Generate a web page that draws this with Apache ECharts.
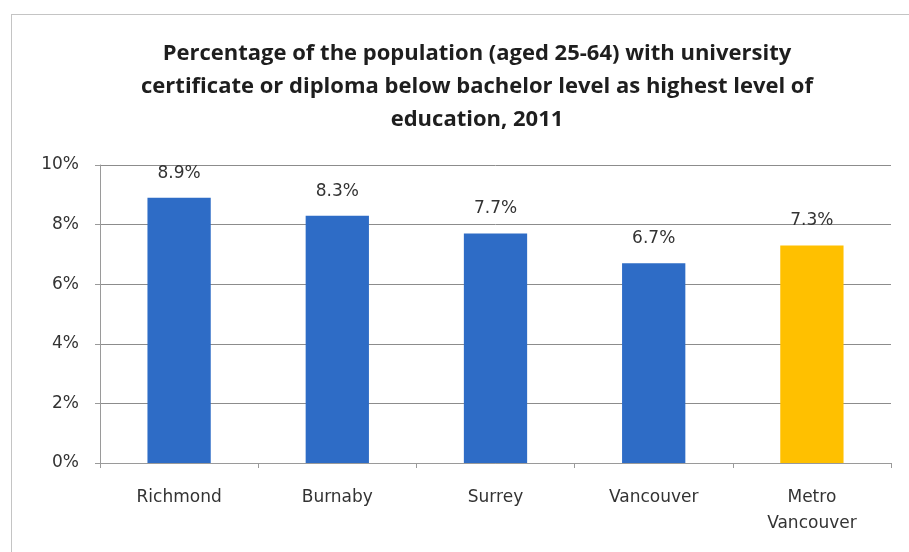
<!DOCTYPE html>
<html>
<head>
<meta charset="utf-8">
<script src="https://cdn.jsdelivr.net/npm/echarts@6/dist/echarts.min.js"></script>
<style>
  html, body { margin: 0; padding: 0; background: #ffffff; }
  #frame { position: absolute; left: 11px; top: 14px; width: 905px; height: 545px; border: 1px solid #c4c4c4; box-sizing: border-box; }
  #chart { position: absolute; left: 0; top: 0; width: 909px; height: 552px; }
</style>
</head>
<body>
<div id="frame"></div>
<div id="chart"></div>
<script>
// Share (%) of adults aged 25-64 whose highest credential is a university
// certificate or diploma below bachelor level, 2011
const titleText = 'Percentage of the population (aged 25-64) with university\ncertificate or diploma below bachelor level as highest level of\neducation, 2011';
const regions = ['Richmond', 'Burnaby', 'Surrey', 'Vancouver', 'Metro\nVancouver'];
const shares = [8.9, 8.3, 7.7, 6.7, 7.3];
const barColors = ['#2e6cc6', '#2e6cc6', '#2e6cc6', '#2e6cc6', '#ffc000'];
const yTicks = [0, 2, 4, 6, 8, 10];

const labelFont = 'DejaVu Sans';

const chart = echarts.init(document.getElementById('chart'), null, { renderer: 'canvas' });
chart.setOption({
  backgroundColor: 'transparent',
  animation: false,
  title: {
    text: titleText,
    left: 472,
    textAlign: 'center',
    top: 32,
    textStyle: {
      fontFamily: 'Open Sans',
      fontWeight: 'bold',
      fontSize: 22,
      lineHeight: 33,
      color: '#1e1e1e'
    }
  },
  grid: { left: 100, right: 18, top: 165, bottom: 89, containLabel: false },
  xAxis: {
    type: 'category',
    data: regions,
    axisLine: { lineStyle: { color: '#9a9a9a', width: 1 } },
    axisTick: { show: true, alignWithLabel: false, length: 5, lineStyle: { color: '#9a9a9a' } },
    axisLabel: {
      fontFamily: labelFont,
      fontSize: 17,
      color: '#333333',
      margin: 22,
      lineHeight: 26
    }
  },
  yAxis: {
    type: 'value',
    min: yTicks[0],
    max: yTicks[yTicks.length - 1],
    interval: 2,
    axisLine: { show: true, lineStyle: { color: '#9a9a9a' } },
    axisTick: { show: true, length: 5, lineStyle: { color: '#9a9a9a' } },
    splitLine: { lineStyle: { color: '#8c8c8c', width: 1 } },
    axisLabel: {
      fontFamily: labelFont,
      fontSize: 17,
      color: '#333333',
      margin: 21,
      formatter: v => v + '%'
    }
  },
  series: [{
    type: 'bar',
    barWidth: '40%',
    data: shares.map((v, i) => ({ value: v, itemStyle: { color: barColors[i] } })),
    label: {
      show: true,
      position: 'top',
      distance: 16,
      fontFamily: labelFont,
      fontSize: 17,
      color: '#333333',
      formatter: p => p.value.toFixed(1) + '%'
    }
  }]
});
</script>
</body>
</html>
